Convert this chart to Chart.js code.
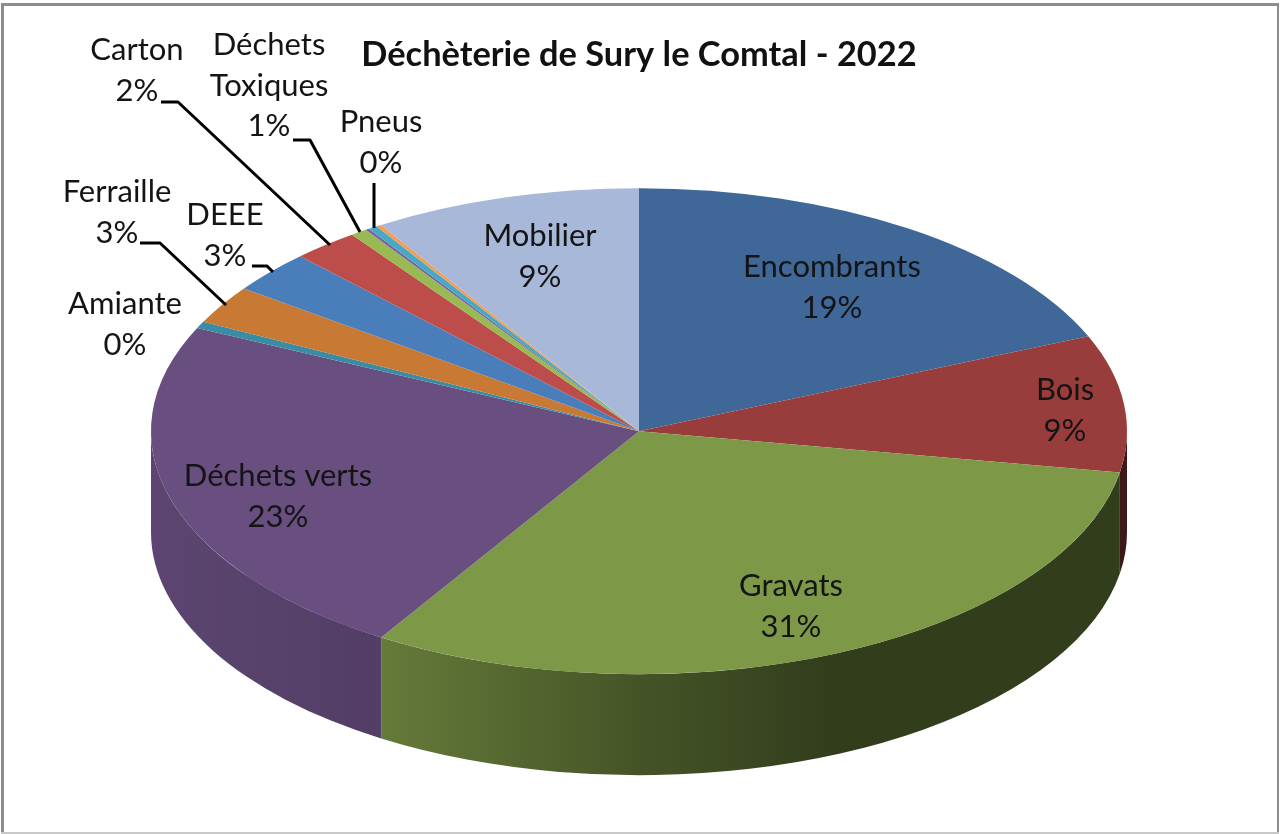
<!DOCTYPE html>
<html><head><meta charset="utf-8">
<style>html,body{margin:0;padding:0;background:#fff}#w{width:1280px;height:834px;position:relative}</style>
<script src="https://cdn.jsdelivr.net/npm/chart.js@4"></script>
</head><body><div id="w"><canvas id="c" width="1280" height="834"></canvas></div>
<script>
const chartTitle = "Déchèterie de Sury le Comtal - 2022";
const categories = ["Encombrants","Bois","Gravats","Déchets verts","Amiante","Ferraille","DEEE","Carton","Déchets\nToxiques","","Pneus","","Mobilier"];
const values = [18.6,9.1,31.1,23.1,0.45,2.55,2.8,2.2,0.55,0.12,0.3,0.17,8.86];
const colors = ["#3f6797","#983d3b","#7d9846","#684f80","#3a8ca5","#c87934","#4a7ebb","#bd4d4a","#98b954","#7d60a0","#46aac5","#f59d56","#a8b8d8"];

// layout of the labels, in page pixels: [centre x, centre y of first line]
const labelPlaces = [[832,267],[1065,390],[791,586],[278,476],[125,304],[117,192],[225,215],[137,50],[269,45],null,[381,122],null,[540,236]];
const leaders = [
  [[140,243],[160,243],[226,305]],
  [[252,266],[267,266],[273,272]],
  [[161,102],[178,102],[330,245]],
  [[293,140],[310,140],[360,232]],
  [[374,183],[374,228]]
];
const RX = 488, RY = 243, DEPTH = 101;
const FONT = '"Lato", sans-serif';

function shade(hex, f){
  const n = parseInt(hex.slice(1),16);
  return `rgb(${Math.round((n>>16&255)*f)},${Math.round((n>>8&255)*f)},${Math.round((n&255)*f)})`;
}
const wallShade = [[0,0.88],[0.23,0.79],[0.235,0.81],[0.50,0.55],[0.70,0.40],[1,0.40]];

const pie3d = {
  id:'pie3d',
  beforeDraw(chart){
    const c = chart.ctx;
    c.save();
    c.fillStyle='#8c8c8c';
    c.fillRect(1,3,3,831); c.fillRect(1,3,1278,3); c.fillRect(1277,3,2,831);
    c.fillStyle='#c8c8c8'; c.fillRect(1,832,1278,2);
    c.restore();
  },
  beforeDatasetsDraw(chart){
    const c = chart.ctx, arcs = chart.getDatasetMeta(0).data;
    const cx = arcs[0].x, cy = arcs[0].y, R = arcs[0].outerRadius, k = RY/R;
    arcs.forEach((a,i)=>{
      const s = Math.max(a.startAngle,0), e = Math.min(a.endAngle,Math.PI);
      if (e<=s) return;
      const g = c.createLinearGradient(cx-R,0,cx+R,0);
      wallShade.forEach(([p,f])=>g.addColorStop(p,shade(colors[i],f)));
      c.beginPath();
      c.ellipse(cx,cy,R,RY,0,s,e);
      c.ellipse(cx,cy+DEPTH,R,RY,0,e,s,true);
      c.closePath();
      c.fillStyle=g; c.fill();
    });
    c.save();
    c.translate(cx,cy); c.scale(1,k); c.translate(-cx,-cy);
  },
  afterDatasetsDraw(chart){
    const c = chart.ctx;
    c.restore();
    c.save();
    c.strokeStyle='#000'; c.lineWidth=3; c.lineJoin='round';
    leaders.forEach(l=>{c.beginPath();l.forEach((p,i)=>i?c.lineTo(p[0],p[1]):c.moveTo(p[0],p[1]));c.stroke();});
    const total = values.reduce((a,b)=>a+b,0);
    c.fillStyle='#141414'; c.font='31px '+FONT; c.textAlign='center'; c.textBaseline='middle';
    categories.forEach((name,i)=>{
      const p = labelPlaces[i]; if(!p) return;
      const lines = name.split('\n').concat(Math.round(values[i]/total*100)+'%');
      lines.forEach((t,j)=>c.fillText(t,p[0],p[1]+j*40.5));
    });
    c.restore();
  }
};

new Chart(document.getElementById('c'),{
  type:'pie',
  data:{labels:categories,datasets:[{data:values,backgroundColor:colors,borderWidth:0,clip:false}]},
  options:{
    responsive:false,animation:false,radius:RX,
    layout:{padding:{left:0,right:2,top:0,bottom:47}},
    plugins:{
      legend:{display:false},tooltip:{enabled:false},
      title:{display:true,text:chartTitle,color:'#111',font:{family:FONT,size:34.4,weight:'bold',lineHeight:1.2},padding:{top:34,bottom:0}}
    }
  },
  plugins:[pie3d]
});
</script></body></html>
